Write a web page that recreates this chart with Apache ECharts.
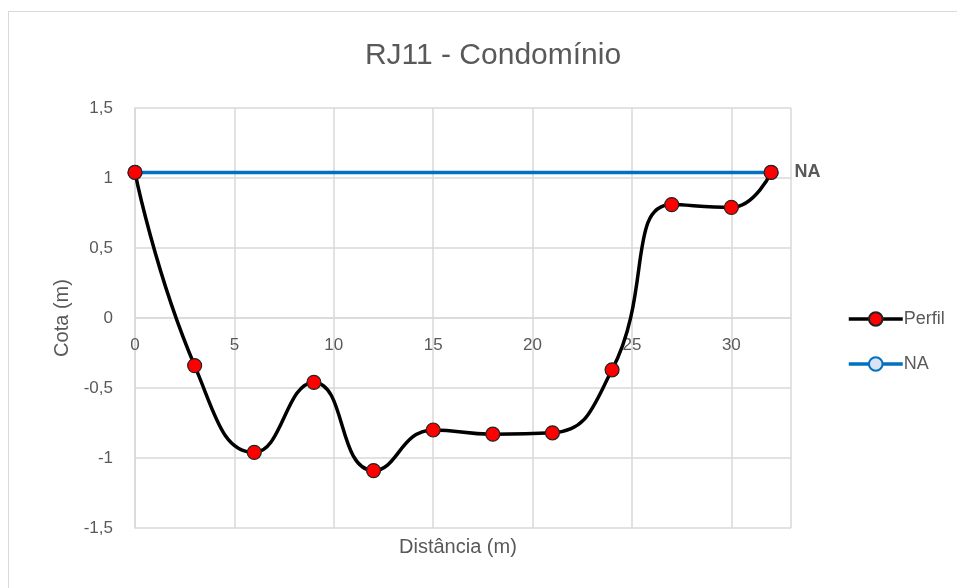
<!DOCTYPE html>
<html>
<head>
<meta charset="utf-8">
<script src="https://cdn.jsdelivr.net/npm/echarts@6/dist/echarts.min.js"></script>
<style>
  html, body { margin: 0; padding: 0; background: #fff; }
  #frame {
    position: absolute; left: 8px; top: 11px; width: 960px; height: 600px;
    border: 1.5px solid #d9d9d9; box-sizing: border-box;
  }
  #chart { position: absolute; left: 0; top: 0; width: 957px; height: 588px; }
</style>
</head>
<body>
<div id="frame"></div>
<div id="chart"></div>
<script>
// distância (m) e cota (m)
const perfilX = [0, 3, 6, 9, 12, 15, 18, 21, 24, 27, 30, 32];
const perfilY = [1.04, -0.34, -0.96, -0.46, -1.09, -0.80, -0.83, -0.82, -0.37, 0.81, 0.79, 1.04];
const naX = [0, 32];
const naY = [1.04, 1.04];

const chartDom = document.getElementById('chart');
const myChart = echarts.init(chartDom);
const font = 'Liberation Sans, Arial, sans-serif';
const grey = '#595959';
const comma = v => String(v).replace('.', ',');

const option = {
  animation: false,
  textStyle: { fontFamily: font },
  title: {
    text: 'RJ11 - Condomínio',
    left: 488, top: 36, textAlign: 'center',
    textStyle: { fontSize: 30, fontWeight: 'normal', color: grey, fontFamily: font }
  },
  graphic: [{
    type: 'text', left: 399, top: 537,
    style: { text: 'Distância (m)', fontSize: 20, fill: grey, fontFamily: font }
  }],
  legend: {
    orient: 'vertical',
    left: 842, top: 305,
    itemWidth: 54, itemHeight: 17, itemGap: 27,
    textStyle: { fontSize: 18, color: grey, padding: [0, 0, 0, -4] },
    data: [
      { name: 'Perfil', lineStyle: { width: 3.5, color: '#000' } },
      { name: 'NA', lineStyle: { width: 3.5, color: '#0070C0' } }
    ]
  },
  grid: { left: 135, right: 166, top: 108, bottom: 60, outerBoundsMode: 'none', containLabel: false },
  xAxis: {
    type: 'value', min: 0, max: 33, interval: 5,
    offset: -210,
    axisLine: { onZero: false, lineStyle: { color: '#d9d9d9', width: 1.5 } },
    axisTick: { show: false },
    axisLabel: { fontSize: 17, color: grey, margin: 19, formatter: comma,
      showMaxLabel: false },
    splitLine: { lineStyle: { color: '#d9d9d9', width: 1.5 } }
  },
  yAxis: {
    type: 'value', min: -1.5, max: 1.5, interval: 0.5,
    name: 'Cota (m)', nameLocation: 'middle', nameGap: 60, nameRotate: 90,
    nameTextStyle: { fontSize: 20, color: grey },
    axisLine: { show: true, lineStyle: { color: '#d9d9d9', width: 1.5 } },
    axisTick: { show: false },
    axisLabel: { fontSize: 17, color: grey, margin: 22, formatter: comma },
    splitLine: { lineStyle: { color: '#d9d9d9', width: 1.5 } }
  },
  series: [
    {
      name: 'NA', type: 'line',
      data: naX.map((x, i) => [x, naY[i]]),
      lineStyle: { color: '#0070C0', width: 3.5 },
      symbol: 'circle', symbolSize: 13,
      itemStyle: { color: '#DAE3F3', borderColor: '#0070C0', borderWidth: 2 },
      label: {
        show: true, position: 'right', distance: 16,
        fontSize: 18, fontWeight: 'bold', color: grey,
        formatter: p => (p.dataIndex === naX.length - 1 ? 'NA' : '')
      },
      z: 2
    },
    {
      name: 'Perfil', type: 'line', smooth: 0.5,
      data: perfilX.map((x, i) => [x, perfilY[i]]),
      lineStyle: { color: '#000000', width: 3.5 },
      symbol: 'circle', symbolSize: 14,
      itemStyle: { color: '#FF0000', borderColor: '#222', borderWidth: 1.2 },
      z: 3
    }
  ]
};
myChart.setOption(option);
</script>
</body>
</html>
